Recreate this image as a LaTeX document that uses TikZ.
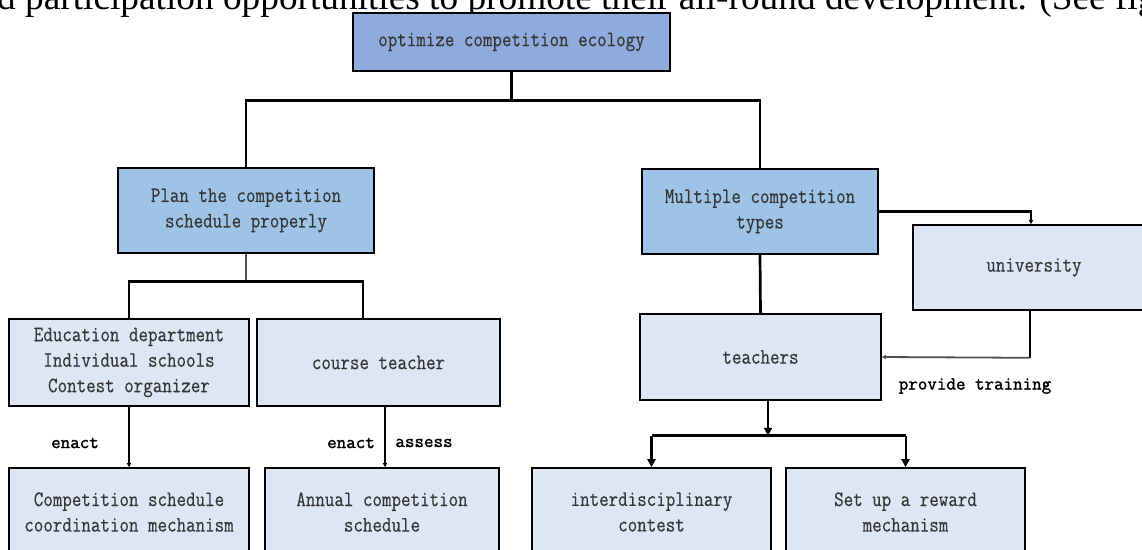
\documentclass[tikz,border=0pt]{standalone}
\usepackage{fontspec}
\newfontfamily\bodyserif{Liberation Serif}
\newfontfamily\boxfont[FakeStretch=0.84,FakeBold=0.4]{Latin Modern Mono}
\newfontfamily\lblfont[FakeBold=1.6]{Latin Modern Mono}
\usetikzlibrary{arrows.meta}
\definecolor{topblue}{HTML}{8FAADC}
\definecolor{midblue}{HTML}{9DC3E6}
\definecolor{lightblue}{HTML}{DCE6F4}
\definecolor{txtgray}{HTML}{363636}
\definecolor{linegray}{HTML}{505050}
\tikzset{
  box/.style={draw=black, line width=1.6pt, text=txtgray, align=center, inner sep=0pt,
    font=\boxfont\fontsize{22}{25.5}\selectfont},
  topbox/.style={box, fill=topblue},
  midbox/.style={box, fill=midblue},
  lowbox/.style={box, fill=lightblue},
  tree/.style={line width=2.7pt, black},
  thinline/.style={line width=1.8pt, linegray},
  bigarr/.style={-{Triangle[length=8pt,width=8pt]}},
  tinyarr/.style={-{Triangle[length=4pt,width=4pt]}},
  lbl/.style={font=\lblfont\fontsize{18.5}{20}\selectfont, text=black, inner sep=0pt}
}
\begin{document}
\begin{tikzpicture}[x=1pt,y=-1pt]
\useasboundingbox (0,0) rectangle (1142,549);
\fill[white] (0,0) rectangle (1142,549);
\clip (0,0) rectangle (1142,549);

% cut-off body text at the top
\node[anchor=base west, inner sep=0pt, font=\bodyserif\fontsize{37.3}{40}\selectfont] (bodytext) at (-3,9)
  {d participation opportunities to promote their all-round development. (See fig};

% boxes
\node[topbox, minimum width=317pt, minimum height=58pt] (top) at (511.5,42) {optimize competition ecology};
\node[midbox, minimum width=256pt, minimum height=85pt] (plan) at (246,210.5) {Plan the competition\\schedule properly};
\node[midbox, minimum width=236pt, minimum height=85pt] (multi) at (760,211.5) {Multiple competition\\types};
\node[lowbox, minimum width=242pt, minimum height=85pt] (univ) at (1034,267.5) {university};
\node[lowbox, minimum width=240pt, minimum height=87pt] (edu) at (129,362.5) {Education department\\Individual schools\\Contest organizer};
\node[lowbox, minimum width=243pt, minimum height=87pt] (course) at (378.5,362.5) {course teacher};
\node[lowbox, minimum width=241pt, minimum height=86pt] (teachers) at (760.5,357) {teachers};
\node[lowbox, minimum width=240pt, minimum height=88pt] (sched) at (129,512) {Competition schedule\\coordination mechanism};
\node[lowbox, minimum width=234pt, minimum height=88pt] (annual) at (382,512) {Annual competition\\schedule};
\node[lowbox, minimum width=239pt, minimum height=88pt] (inter) at (651.5,512) {interdisciplinary\\contest};
\node[lowbox, minimum width=239pt, minimum height=88pt] (reward) at (905.5,512) {Set up a reward\\mechanism};

% top tree
\draw[tree] (top.south) -- ++(0,29) coordinate (j0);
\draw[tree] (j0) -| (plan.north);
\draw[tree] (j0) -| (multi.north);

% plan branch
\draw[thinline] (plan.south) -- ++(0,28) coordinate (j1);
\draw[tree] (edu.north) |- (j1) -| ([xshift=-15.5pt]course.north);
\draw[tree, tinyarr] (edu.south) -- (sched.north);
\draw[tree, tinyarr] ([xshift=6.5pt]course.south) -- ([xshift=6.5pt]course.south |- annual.north);

% multi branch
\draw[tree] (multi.south) -- (teachers.north);
\draw[line width=2.4pt, tinyarr] (multi.east) -| ([xshift=-3pt]univ.north);
\draw[line width=2.2pt] ([xshift=-4pt]univ.south) -- ++(0,47) coordinate (j3);
\draw[thinline, tinyarr] (j3) -- (teachers.east);
\draw[tree, bigarr] ([xshift=7.5pt]teachers.south) -- ++(0,35) coordinate (j2);
\draw[tree] (inter.north |- j2) -- (reward.north |- j2);
\draw[tree, bigarr] (inter.north |- j2) -- (inter.north);
\draw[line width=2pt, bigarr] (reward.north |- j2) -- (reward.north);

% labels
\node[lbl] (l1) at (75,443) {enact};
\node[lbl] (l2) at (351,443) {enact};
\node[lbl] (l3) at (424,443) {assess};
\node[lbl] (l4) at (975,386) {provide training};
\end{tikzpicture}
\end{document}
